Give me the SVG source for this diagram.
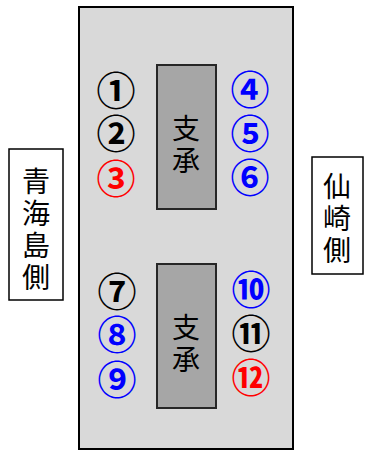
<svg xmlns="http://www.w3.org/2000/svg" width="368" height="450" viewBox="0 0 368 450">
<style>
.lbl{font-family:"Noto Sans CJK JP","Noto Sans CJK SC",sans-serif;font-size:28px;fill:#000;text-anchor:middle;writing-mode:vertical-rl;letter-spacing:4px}
.num{font-family:"Noto Sans CJK JP","Noto Sans CJK SC",sans-serif;font-size:39px;font-weight:bold;text-anchor:middle;dominant-baseline:central}
.k{fill:#000}.r{fill:#ff0000}.b{fill:#0000ff}
.brg{fill:#a6a6a6;stroke:#262626;stroke-width:2}
.side{fill:#fff;stroke:#000;stroke-width:1.5}
</style>
<g id="deck"><rect x="79" y="7" width="214" height="442" fill="#d9d9d9" stroke="#000" stroke-width="2"/></g>
<g id="bearing-upper"><rect class="brg" x="157" y="65" width="59" height="144"/>
<text class="lbl" x="186" y="146">支承</text></g>
<g id="bearing-lower"><rect class="brg" x="157" y="264" width="59" height="144"/>
<text class="lbl" x="186" y="345">支承</text></g>
<g id="side-left"><rect class="side" x="9" y="149" width="54" height="151"/>
<text class="lbl" x="36" y="231">青海島側</text></g>
<g id="side-right"><rect class="side" x="312" y="157" width="51" height="117"/>
<text class="lbl" x="337" y="220">仙崎側</text></g>
<g id="numbers">
<text class="num k" x="116" y="88">①</text>
<text class="num k" x="116" y="131">②</text>
<text class="num r" x="116" y="176">③</text>
<text class="num b" x="250" y="87">④</text>
<text class="num b" x="250" y="131">⑤</text>
<text class="num b" x="250" y="175">⑥</text>
<text class="num k" x="117" y="289">⑦</text>
<text class="num b" x="117" y="332">⑧</text>
<text class="num b" x="117" y="377">⑨</text>
<text class="num b" x="251" y="287">⑩</text>
<text class="num k" x="251" y="331">⑪</text>
<text class="num r" x="251" y="375">⑫</text>
</g>
<g id="connectors"/>
</svg>
